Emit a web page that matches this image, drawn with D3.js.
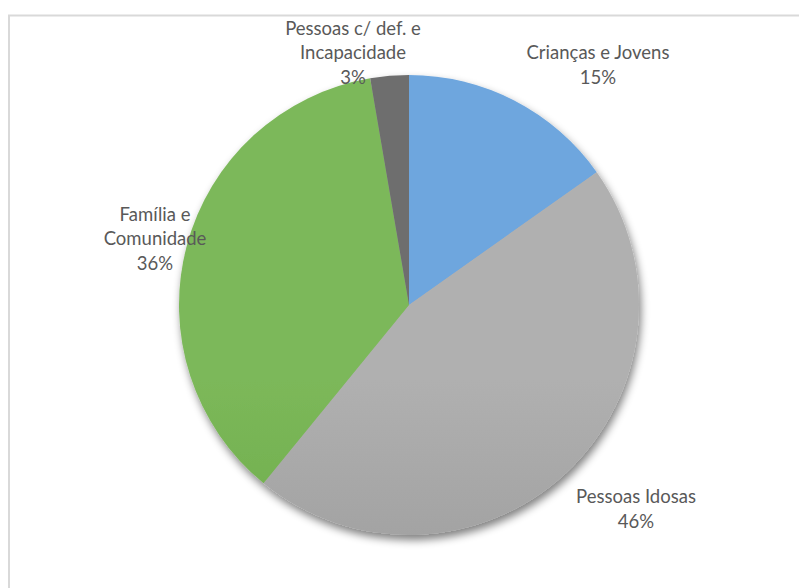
<!DOCTYPE html>
<html>
<head>
<meta charset="utf-8">
<script src="https://cdn.jsdelivr.net/npm/d3@7"></script>
<style>
  body { margin: 0; background: #fff; }
  svg { display: block; }
  text { font-family: Lato, "Noto Sans", sans-serif; fill: #595959; }
</style>
</head>
<body>
<div id="chart"></div>
<script>
(function () {
  // Data

  const categories = ["Crianças e Jovens", "Pessoas Idosas", "Família e Comunidade", "Pessoas c/ def. e Incapacidade"];
  const values = [15.2, 45.7, 36.4, 2.7];
  const labelLines = [
    ["Crianças e Jovens"],
    ["Pessoas Idosas"],
    ["Família e", "Comunidade"],
    ["Pessoas c/ def. e", "Incapacidade"]
  ];
  const colorsTop = ["#6ea6de", "#b0b0b0", "#7cb85a", "#6e6e6e"];
  const colorsBottom = ["#4b8dd4", "#8a8a8a", "#5c9e33", "#555555"];

  // Config

  const width = 799;
  const height = 588;
  const cx = 409;
  const cy = 305;
  const radius = 230;
  const fontSize = 18.5;
  const lineHeight = 24.5;

  // label block centre, offset from the pie centre
  const labelOffset = [[189, -240], [227, 204], [-254, -66], [-56, -252]];

  const svg = d3.select("#chart")
    .append("svg")
    .attr("width", width)
    .attr("height", height);

  // Frame (only top and left edges are visible in the crop)

  svg.append("path")
    .attr("d", `M9,${height + 5} V15.5 H${width + 5}`)
    .attr("fill", "none")
    .attr("stroke", "#d9d9d9")
    .attr("stroke-width", 2);

  const defs = svg.append("defs");

  const shadow = defs.append("filter")
    .attr("id", "shadow")
    .attr("x", "-20%").attr("y", "-20%")
    .attr("width", "140%").attr("height", "140%");
  shadow.append("feGaussianBlur").attr("in", "SourceAlpha").attr("stdDeviation", 4).attr("result", "blur");
  shadow.append("feOffset").attr("in", "blur").attr("dx", 2).attr("dy", 5).attr("result", "off");
  shadow.append("feComponentTransfer").attr("in", "off").attr("result", "soft")
    .append("feFuncA").attr("type", "linear").attr("slope", 0.5);
  const merge = shadow.append("feMerge");
  merge.append("feMergeNode").attr("in", "soft");
  merge.append("feMergeNode").attr("in", "SourceGraphic");

  categories.forEach((c, i) => {
    const g = defs.append("linearGradient")
      .attr("id", "grad" + i)
      .attr("gradientUnits", "userSpaceOnUse")
      .attr("x1", 0).attr("y1", cy - radius)
      .attr("x2", 0).attr("y2", cy + radius);
    g.append("stop").attr("offset", "0%").attr("stop-color", colorsTop[i]);
    g.append("stop").attr("offset", "100%").attr("stop-color", colorsBottom[i]);
  });

  // Pie

  const pie = d3.pie().sort(null).value(d => d)(values);
  const arc = d3.arc().innerRadius(0).outerRadius(radius);

  const total = d3.sum(values);

  const g = svg.append("g")
    .attr("transform", `translate(${cx},${cy})`);

  g.append("g")
    .attr("filter", "url(#shadow)")
    .selectAll("path")
    .data(pie)
    .join("path")
    .attr("d", arc)
    .attr("fill", (d, i) => `url(#grad${i})`);

  // Labels

  const labels = g.selectAll("text.label")
    .data(pie)
    .join("text")
    .attr("class", "label")
    .attr("text-anchor", "middle")
    .attr("font-size", fontSize);

  labels.each(function (d, i) {
    const lines = labelLines[i].concat([Math.round(d.value / total * 100) + "%"]);
    const [ox, oy] = labelOffset[i];
    const y0 = oy - (lines.length - 1) * lineHeight / 2;
    d3.select(this).selectAll("tspan")
      .data(lines)
      .join("tspan")
      .attr("x", ox)
      .attr("y", (l, k) => y0 + k * lineHeight)
      .attr("dy", "0.35em")
      .text(l => l);
  });
})();
</script>
</body>
</html>
